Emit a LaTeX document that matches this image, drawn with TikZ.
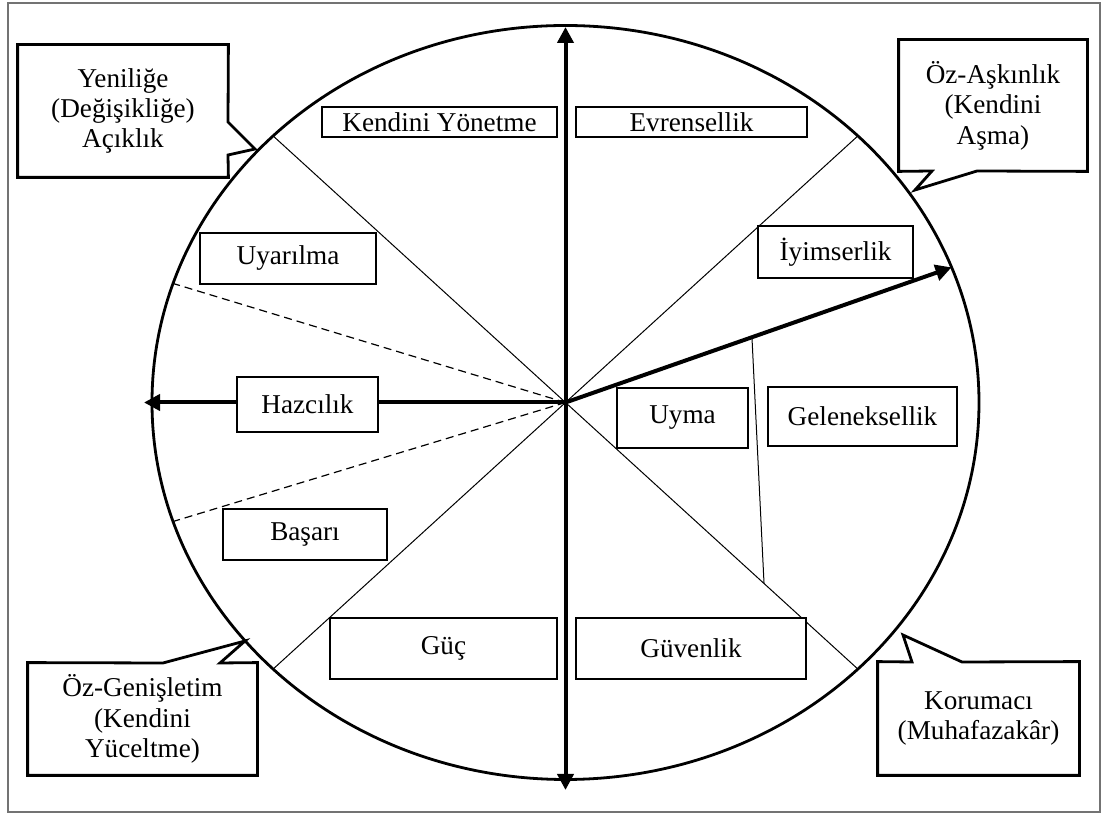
\documentclass[tikz,border=0pt]{standalone}
\usepackage{fontspec}
\setmainfont{Liberation Serif}
\usetikzlibrary{arrows.meta,calc}
\tikzset{
  val/.style    ={draw, fill=white, line width=0.6pt, inner sep=0pt, align=center, font=\fontsize{13.6}{15.2}\selectfont},
  tag/.style    ={inner sep=0pt, align=center, font=\fontsize{13.6}{15.2}\selectfont},
  tagline/.style={line width=1.4pt, line join=miter},
  axis/.style   ={{Triangle[length=8pt,width=8pt]}-{Triangle[length=8pt,width=8pt]}, line width=2pt},
  arr/.style    ={-{Triangle[length=8pt,width=8pt]}, line width=2pt},
  spoke/.style  ={line width=0.5pt},
  dspoke/.style ={line width=0.6pt, dash pattern=on 4pt off 2.5pt},
}
\begin{document}
\begin{tikzpicture}[x=0.5pt, y=0.5pt]
  \useasboundingbox (0,0) rectangle (1105,814);
  \draw[black!55, line width=0.8pt] (8,2) rectangle (1100,811);
  \coordinate (O) at (565.5,411.5);
  \draw[line width=1.4pt] (O) ellipse [x radius=206.75pt, y radius=188.5pt];
  \foreach \a/\n in {45/ne, 135/nw, 225/sw, 315/se, 161.6/dup, 198.4/ddn, 21/tip}
    \coordinate (\n) at ($(O)+(\a:413.5 and 377)$);
  \coordinate (top) at (565.5,787);
  \coordinate (bot) at (565.5,24);
  \coordinate (west) at (144,411.5);
  \coordinate (kink) at ($(O)!0.483!(tip)$);
  \coordinate (kfoot) at ($(O)!0.679!(se)$);
  \foreach \n in {ne,nw,sw,se}
    \draw[spoke] (O) -- (\n);
  \draw[dspoke] (O) -- (dup);
  \draw[dspoke] (O) -- (ddn);
  \draw[spoke] (kink) -- (kfoot);
  \draw[axis] (bot) -- (top);
  \draw[arr] (O) -- (west);
  \draw[arr] (O) -- (tip);

  \node[val, minimum width=117.5pt, minimum height=15pt] (kyon) at (439.5,692) {Kendini Yönetme};
  \node[val, minimum width=115.5pt, minimum height=15pt] (evr) at (691.5,692) {Evrensellik};
  \node[val, minimum width=88pt, minimum height=25.5pt] (uya) at (288,555.5) {Uyarılma};
  \node[val, minimum width=77.5pt, minimum height=26pt] (iyi) at (835.5,562) {İyimserlik};
  \node[val, minimum width=70.5pt, minimum height=27.5pt] (haz) at (307.5,409.5) {Hazcılık};
  \node[val, minimum width=65.5pt, minimum height=30pt] (uym) at (682.5,396) {Uyma};
  \node[val, minimum width=94.5pt, minimum height=29.5pt] (gel) at (862.5,397.5) {Geleneksellik};
  \node[val, minimum width=82pt, minimum height=25.5pt] (bas) at (305,279.5) {Başarı};
  \node[val, minimum width=113.5pt, minimum height=30.5pt] (guc) at (443.5,165.5) {Güç};
  \node[val, minimum width=115pt, minimum height=30.5pt] (guv) at (691,165.5) {Güvenlik};

  \node[tag, minimum width=105pt, minimum height=66pt] (yeni) at (123,703) {Yeniliğe\\(Değişikliğe)\\Açıklık};
  \node[tag, minimum width=94pt, minimum height=65.5pt] (ozas) at (993,708.5) {Öz-Aşkınlık\\(Kendini\\Aşma)};
  \node[tag, minimum width=114.5pt, minimum height=56pt] (ozge) at (142.5,95) {Öz-Genişletim\\(Kendini\\Yüceltme)};
  \node[tag, minimum width=100.5pt, minimum height=56.5pt] (koru) at (978.5,95.5) {Korumacı\\(Muhafazakâr)};
  \draw[tagline] (yeni.north west) -- (yeni.north east) -- (228,692) -- (255,665) -- (228,659)
    -- (yeni.south east) -- (yeni.south west) -- cycle;
  \draw[tagline] (ozas.north west) -- (ozas.north east) -- (ozas.south east) -- (977,643) -- (915,624)
    -- (932,643) -- (ozas.south west) -- cycle;
  \draw[tagline] (ozge.north west) -- (163,151) -- (245,173) -- (220,151) -- (ozge.north east)
    -- (ozge.south east) -- (ozge.south west) -- cycle;
  \draw[tagline] (koru.north west) -- (912,152) -- (903,179) -- (962,152) -- (koru.north east)
    -- (koru.south east) -- (koru.south west) -- cycle;
\end{tikzpicture}
\end{document}
